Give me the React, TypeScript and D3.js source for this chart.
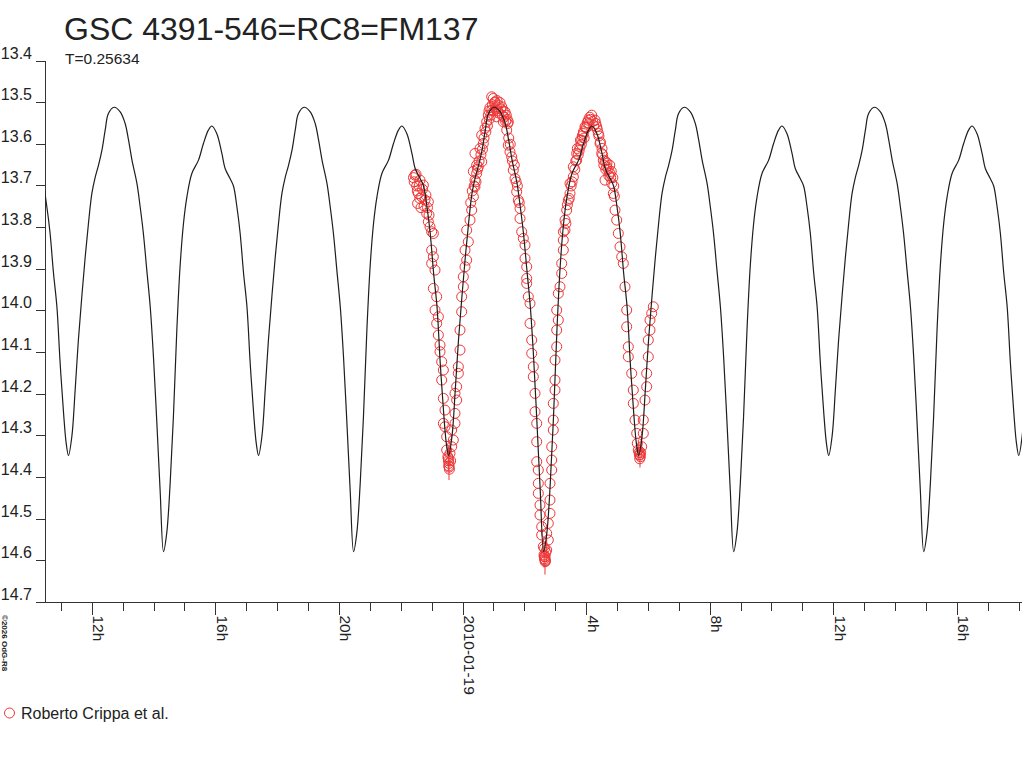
import * as d3 from 'd3';
import { useEffect, useRef } from 'react';

// Light curve of GSC 4391-546 around 2010-01-19, observations + phased model
const titleText = 'GSC 4391-546=RC8=FM137';
const periodDays = 0.25634;
const observerName = 'Roberto Crippa et al.';
const copyrightText = '©2026 OdG-R8';

// times are hours relative to 2010-01-19 00:00 UT
const baseDate = Date.UTC(2010, 0, 19);
const hourRange = [-13.531, 18.095];
const minEpochHour = 2.61; // primary minimum

const magTicks = [13.4, 13.5, 13.6, 13.7, 13.8, 13.9, 14.0, 14.1, 14.2, 14.3, 14.4, 14.5, 14.6, 14.7];

// model curve, one cycle (phase 0 = primary minimum)
const modelPhase = [
  0, 0.017, 0.035, 0.052, 0.07, 0.087, 0.105, 0.123, 0.149, 0.184, 0.21, 0.236, 0.254, 0.28, 0.307,
  0.324, 0.35, 0.368, 0.386, 0.403, 0.421, 0.439, 0.456, 0.474, 0.488, 0.5, 0.518, 0.535, 0.552, 0.57,
  0.588, 0.605, 0.623, 0.64, 0.658, 0.676, 0.693, 0.71, 0.74, 0.772, 0.798, 0.816, 0.834, 0.86, 0.877,
  0.894, 0.912, 0.93, 0.947, 0.965, 0.982,
];
const modelMag = [
  14.578, 14.533, 14.413, 14.254, 14.046, 13.894, 13.79, 13.726, 13.67, 13.638, 13.598, 13.566, 13.556,
  13.574, 13.622, 13.658, 13.682, 13.7, 13.75, 13.813, 13.909, 13.99, 14.125, 14.245, 14.318, 14.347,
  14.3, 14.19, 14.07, 13.966, 13.87, 13.79, 13.718, 13.68, 13.65, 13.614, 13.566, 13.526, 13.511, 13.522,
  13.55, 13.59, 13.638, 13.694, 13.75, 13.814, 13.902, 13.99, 14.11, 14.27, 14.43,
];

// observations
const obsHour = [
  -1.604, -1.58, -1.554, -1.52, -1.5, -1.48, -1.47, -1.446, -1.42, -1.4, -1.392, -1.36, -1.338, -1.31, -1.284,
  -1.26, -1.23, -1.2, -1.176, -1.15, -1.122, -1.122, -1.1, -1.068, -1.014, -1.014, -1.014, -0.96, -0.96, -0.96,
  -0.906, -0.906, -0.852, -0.852, -0.798, -0.798, -0.744, -0.744, -0.69, -0.69, -0.636, -0.636, -0.636, -0.583,
  -0.583, -0.529, -0.529, -0.49, -0.475, -0.47, -0.46, -0.453, -0.45, -0.44, -0.421, -0.4, -0.367, -0.367,
  -0.313, -0.259, -0.259, -0.259, -0.205, -0.205, -0.151, -0.151, -0.097, -0.097, -0.043, -0.043, 0.011,
  0.011, 0.065, 0.065, 0.119, 0.119, 0.173, 0.227, 0.25, 0.281, 0.3, 0.333, 0.335, 0.36, 0.388, 0.388, 0.388,
  0.42, 0.442, 0.442, 0.47, 0.496, 0.52, 0.55, 0.58, 0.605, 0.605, 0.63, 0.657, 0.68, 0.712, 0.74, 0.767, 0.79,
  0.819, 0.84, 0.85, 0.87, 0.9, 0.929, 0.929, 0.95, 0.98, 1.0, 1.02, 1.036, 1.05, 1.08, 1.091, 1.1, 1.12,
  1.143, 1.16, 1.2, 1.22, 1.253, 1.27, 1.3, 1.305, 1.33, 1.36, 1.38, 1.4, 1.415, 1.43, 1.45, 1.466, 1.466,
  1.48, 1.521, 1.53, 1.576, 1.6, 1.628, 1.66, 1.683, 1.72, 1.738, 1.76, 1.79, 1.82, 1.845, 1.845, 1.9, 1.952,
  2.007, 2.007, 2.062, 2.062, 2.062, 2.114, 2.169, 2.169, 2.224, 2.224, 2.276, 2.276, 2.331, 2.331, 2.386,
  2.386, 2.386, 2.438, 2.438, 2.438, 2.492, 2.492, 2.547, 2.547, 2.599, 2.622, 2.63, 2.64, 2.64, 2.654, 2.66,
  2.66, 2.67, 2.68, 2.709, 2.709, 2.761, 2.761, 2.816, 2.816, 2.816, 2.871, 2.871, 2.871, 2.923, 2.923, 2.923,
  2.978, 2.978, 2.978, 3.033, 3.033, 3.033, 3.085, 3.085, 3.14, 3.195, 3.195, 3.247, 3.247, 3.25, 3.302,
  3.302, 3.33, 3.357, 3.38, 3.409, 3.44, 3.464, 3.464, 3.5, 3.53, 3.571, 3.571, 3.62, 3.65, 3.68, 3.68, 3.7,
  3.73, 3.76, 3.787, 3.8, 3.83, 3.842, 3.86, 3.894, 3.9, 3.92, 3.949, 3.97, 4.0, 4.02, 4.056, 4.08, 4.1, 4.13,
  4.166, 4.2, 4.23, 4.273, 4.3, 4.328, 4.35, 4.38, 4.4, 4.435, 4.45, 4.49, 4.5, 4.52, 4.542, 4.56, 4.597, 4.6,
  4.62, 4.652, 4.66, 4.7, 4.72, 4.75, 4.758, 4.78, 4.8, 4.813, 4.85, 4.865, 4.88, 4.9, 4.92, 4.975, 5.027,
  5.082, 5.137, 5.189, 5.244, 5.299, 5.299, 5.351, 5.351, 5.461, 5.513, 5.513, 5.568, 5.623, 5.642, 5.674,
  5.7, 5.71, 5.72, 5.729, 5.74, 5.75, 5.784, 5.836, 5.836, 5.891, 5.946, 5.946, 5.998, 5.998, 6.053, 6.053,
  6.108, 6.16,
];
const obsMag = [
  13.68, 13.69, 13.674, 13.672, 13.7, 13.712, 13.742, 13.718, 13.7, 13.73, 13.686, 13.752, 13.726, 13.708,
  13.698, 13.748, 13.734, 13.722, 13.766, 13.752, 13.738, 13.786, 13.77, 13.798, 13.81, 13.854, 13.886,
  13.814, 13.87, 13.946, 13.902, 13.998, 13.966, 14.03, 14.014, 14.058, 14.082, 14.098, 14.122, 14.166,
  14.142, 14.21, 14.27, 14.238, 14.278, 14.302, 14.334, 14.35, 14.354, 14.36, 14.372, 14.366, 14.375, 14.38,
  14.342, 14.36, 14.326, 14.286, 14.31, 14.27, 14.246, 14.198, 14.214, 14.182, 14.15, 14.134, 14.094, 14.046,
  14.002, 13.966, 13.942, 13.918, 13.894, 13.854, 13.878, 13.806, 13.834, 13.782, 13.74, 13.758, 13.712,
  13.665, 13.726, 13.7, 13.702, 13.686, 13.622, 13.69, 13.67, 13.65, 13.66, 13.654, 13.64, 13.61, 13.625,
  13.642, 13.578, 13.612, 13.598, 13.585, 13.562, 13.57, 13.546, 13.556, 13.53, 13.52, 13.54, 13.512, 13.53,
  13.518, 13.486, 13.505, 13.49, 13.52, 13.5, 13.498, 13.515, 13.51, 13.534, 13.495, 13.52, 13.506, 13.525,
  13.5, 13.515, 13.51, 13.53, 13.52, 13.546, 13.535, 13.522, 13.545, 13.53, 13.566, 13.54, 13.55, 13.546,
  13.602, 13.585, 13.618, 13.6, 13.63, 13.64, 13.662, 13.65, 13.682, 13.69, 13.714, 13.7, 13.734, 13.74,
  13.754, 13.778, 13.81, 13.826, 13.842, 13.874, 13.894, 13.922, 13.934, 13.966, 13.982, 14.03, 14.07,
  14.102, 14.134, 14.158, 14.198, 14.242, 14.27, 14.314, 14.362, 14.382, 14.414, 14.438, 14.466, 14.49,
  14.518, 14.538, 14.566, 14.586, 14.59, 14.57, 14.595, 14.598, 14.602, 14.59, 14.6, 14.58, 14.574, 14.534,
  14.55, 14.51, 14.486, 14.454, 14.414, 14.382, 14.358, 14.326, 14.286, 14.262, 14.222, 14.19, 14.166,
  14.118, 14.086, 14.046, 13.998, 14.022, 13.958, 13.942, 13.91, 13.886, 13.854, 13.83, 13.81, 13.806,
  13.782, 13.79, 13.758, 13.745, 13.734, 13.73, 13.718, 13.694, 13.7, 13.69, 13.678, 13.654, 13.66, 13.64,
  13.638, 13.622, 13.61, 13.625, 13.615, 13.606, 13.59, 13.6, 13.59, 13.58, 13.574, 13.57, 13.585, 13.558,
  13.56, 13.56, 13.548, 13.542, 13.55, 13.535, 13.54, 13.53, 13.545, 13.555, 13.542, 13.55, 13.558, 13.565,
  13.574, 13.58, 13.598, 13.595, 13.622, 13.61, 13.625, 13.638, 13.65, 13.686, 13.64, 13.66, 13.654, 13.645,
  13.66, 13.675, 13.65, 13.67, 13.68, 13.665, 13.694, 13.68, 13.718, 13.7, 13.725, 13.758, 13.782, 13.814,
  13.846, 13.87, 13.886, 13.942, 13.998, 14.038, 14.086, 14.11, 14.15, 14.19, 14.222, 14.262, 14.294, 14.318,
  14.334, 14.34, 14.345, 14.355, 14.346, 14.35, 14.34, 14.326, 14.294, 14.262, 14.214, 14.182, 14.15, 14.11,
  14.07, 14.046, 14.022, 14.006, 13.99,
];

// error bars near the minima
const errHour = [-0.475, -0.453, -0.421, 2.622, 2.654, 2.709, 5.674, 5.729, 5.784];
const errMag = [14.354, 14.366, 14.342, 14.586, 14.598, 14.574, 14.334, 14.346, 14.326];
const errSize = [0.03, 0.04, 0.03, 0.03, 0.035, 0.03, 0.025, 0.03, 0.025];

const font = '"Liberation Sans", Arial, sans-serif';
const textColor = '#222';
const obsColor = '#ee3636';

export default function App() {
  const svgRef = useRef<SVGSVGElement | null>(null);

  useEffect(() => {
    if (!svgRef.current) return;
    const width = 1024;
    const height = 768;
    const plot = { left: 45, right: 1022, top: 61, bottom: 602.5 };

    const toDate = (h: number) => new Date(baseDate + h * 3600e3);
    const x = d3.scaleUtc().domain(hourRange.map(toDate)).range([plot.left, plot.right]);
    const y = d3.scaleLinear().domain([13.4, 14.7]).range([plot.top, plot.bottom]);

    // Limpiar render previo
    d3.select(svgRef.current).selectAll('*').remove();
    const svg = d3.select(svgRef.current).attr('width', width).attr('height', height);

    svg
      .append('defs')
      .append('clipPath')
      .attr('id', 'plot-clip')
      .append('rect')
      .attr('x', plot.left)
      .attr('y', 0)
      .attr('width', plot.right - plot.left)
      .attr('height', plot.bottom);

    // Titles
    svg
      .append('text')
      .attr('x', 64)
      .attr('y', 40)
      .attr('font-family', font)
      .attr('font-size', 32)
      .attr('fill', textColor)
      .text(titleText);
    svg
      .append('text')
      .attr('x', 65)
      .attr('y', 64)
      .attr('font-family', font)
      .attr('font-size', 15.5)
      .attr('fill', textColor)
      .text(`T=${periodDays}`);

    // Y axis
    const axis = svg.append('g').attr('stroke', '#333').attr('shape-rendering', 'crispEdges');
    axis
      .append('line')
      .attr('x1', plot.left)
      .attr('x2', plot.left)
      .attr('y1', y(13.4))
      .attr('y2', plot.bottom);
    magTicks.forEach((m) => {
      axis
        .append('line')
        .attr('x1', plot.left - 9)
        .attr('x2', plot.left)
        .attr('y1', y(m))
        .attr('y2', y(m));
      svg
        .append('text')
        .attr('x', 32)
        .attr('y', y(m) - 2.5)
        .attr('text-anchor', 'end')
        .attr('font-family', font)
        .attr('font-size', 16)
        .attr('fill', textColor)
        .text(m.toFixed(1));
    });

    // X axis
    axis
      .append('line')
      .attr('x1', plot.left - 9)
      .attr('x2', plot.right)
      .attr('y1', plot.bottom)
      .attr('y2', plot.bottom);
    x.ticks(d3.utcHour.every(1)!).forEach((d) => {
      const h = d.getUTCHours();
      const major = h % 4 === 0;
      axis
        .append('line')
        .attr('x1', x(d))
        .attr('x2', x(d))
        .attr('y1', plot.bottom)
        .attr('y2', plot.bottom + (major ? 12 : 8.5));
      if (major) {
        svg
          .append('text')
          .attr('transform', `translate(${x(d) + 1},${plot.bottom + 13}) rotate(90)`)
          .attr('font-family', font)
          .attr('font-size', 15.5)
          .attr('fill', textColor)
          .text(h === 0 ? d3.utcFormat('%Y-%m-%d')(d) : `${h}h`);
      }
    });

    // Observations
    const data = svg.append('g').attr('clip-path', 'url(#plot-clip)');
    errHour.forEach((h, i) => {
      data
        .append('line')
        .attr('x1', x(toDate(h)))
        .attr('x2', x(toDate(h)))
        .attr('y1', y(errMag[i] - errSize[i]))
        .attr('y2', y(errMag[i] + errSize[i]))
        .attr('stroke', obsColor)
        .attr('stroke-width', 1);
    });
    obsHour.forEach((h, i) => {
      data
        .append('circle')
        .attr('cx', x(toDate(h)))
        .attr('cy', y(obsMag[i]))
        .attr('r', 5)
        .attr('fill', 'none')
        .attr('stroke', obsColor)
        .attr('stroke-width', 1);
    });

    // Model curve repeated with the period
    const periodHours = periodDays * 24;
    const kFrom = Math.floor((hourRange[0] - minEpochHour) / periodHours) - 1;
    const kTo = Math.ceil((hourRange[1] - minEpochHour) / periodHours) + 1;
    const model: [number, number][] = [];
    for (let k = kFrom; k <= kTo; k++) {
      modelPhase.forEach((p, i) => {
        model.push([minEpochHour + (k + p) * periodHours, modelMag[i]]);
      });
    }
    const line = d3
      .line<[number, number]>()
      .x((d) => x(toDate(d[0])))
      .y((d) => y(d[1]))
      .curve(d3.curveCatmullRom.alpha(0.5));
    data
      .append('path')
      .attr('d', line(model))
      .attr('fill', 'none')
      .attr('stroke', '#1e1e1e')
      .attr('stroke-width', 1.2);

    // Legend
    svg
      .append('circle')
      .attr('cx', 9.5)
      .attr('cy', 713)
      .attr('r', 5)
      .attr('fill', 'none')
      .attr('stroke', obsColor);
    svg
      .append('text')
      .attr('x', 21)
      .attr('y', 718.5)
      .attr('font-family', font)
      .attr('font-size', 16)
      .attr('fill', textColor)
      .text(observerName);

    // Copyright
    svg
      .append('text')
      .attr('transform', 'translate(1.5,615) rotate(90)')
      .attr('font-family', font)
      .attr('font-size', 8)
      .attr('font-weight', 'bold')
      .attr('fill', textColor)
      .text(copyrightText);
  }, []);

  return (
    <div style={{ position: 'absolute', left: 0, top: 0, background: '#fff' }}>
      <svg ref={svgRef} style={{ display: 'block' }} />
    </div>
  );
}
